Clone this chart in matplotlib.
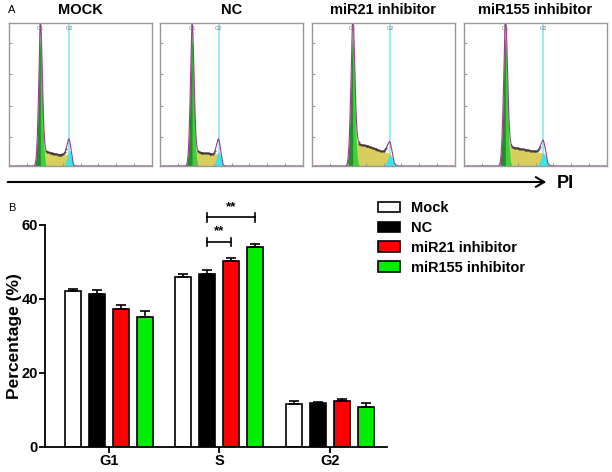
import numpy as np
import matplotlib
matplotlib.use("Agg")
import matplotlib.pyplot as plt
from matplotlib.patches import Patch, FancyArrowPatch

plt.rcParams['font.family'] = ['Liberation Sans', 'DejaVu Sans']

# ---- panel B data ----
groups = ["G1", "S", "G2"]
conditions = ["Mock", "NC", "miR21 inhibitor", "miR155 inhibitor"]
bar_colors = ["white", "black", "#ff0000", "#00ee00"]
mock = [42.2, 46.0, 11.6]
mock_err = [0.4, 0.8, 0.8]
nc = [41.4, 46.8, 11.9]
nc_err = [1.0, 1.0, 0.2]
mir21 = [37.2, 50.4, 12.5]
mir21_err = [1.2, 0.7, 0.6]
mir155 = [35.2, 54.0, 10.8]
mir155_err = [1.5, 0.9, 1.2]

# ---- panel A: cell cycle histograms (positions as fraction of channel range) ----
hist_titles = ["MOCK", "NC", "miR21 inhibitor", "miR155 inhibitor"]
g1_pos = [0.22, 0.225, 0.285, 0.29]
g2_pos = [0.42, 0.41, 0.545, 0.555]
g1_peak = [0.88, 0.88, 0.88, 0.90]
g2_peak = [0.11, 0.10, 0.08, 0.09]
g1_sd = [0.013, 0.013, 0.014, 0.014]
g2_sd = [0.015, 0.015, 0.019, 0.019]
# S-phase level at 6 evenly spaced spots from G1 to G2
s_levels = [
    [0.13, 0.10, 0.09, 0.08, 0.08, 0.08],
    [0.12, 0.10, 0.09, 0.09, 0.08, 0.09],
    [0.17, 0.15, 0.14, 0.12, 0.10, 0.09],
    [0.15, 0.13, 0.12, 0.11, 0.10, 0.09],
]

fig = plt.figure(figsize=(6.12, 4.72), dpi=100)

lefts = [9, 160, 312, 464]
for i in range(4):
    ax = fig.add_axes([lefts[i] / 612, 1 - 166 / 472, 143 / 612, 143 / 472])
    x = np.linspace(0, 1, 800)
    sx = np.linspace(g1_pos[i], g2_pos[i], len(s_levels[i]))
    sx = np.concatenate([[g1_pos[i] - 0.01], sx, [g2_pos[i] + 0.03]])
    sy = np.concatenate([[0], s_levels[i], [0]])
    s_curve = np.interp(x, sx, sy)
    g1 = g1_peak[i] * np.exp(-0.5 * ((x - g1_pos[i]) / g1_sd[i]) ** 2)
    g2 = g2_peak[i] * np.exp(-0.5 * ((x - g2_pos[i]) / g2_sd[i]) ** 2)
    total = s_curve + g1 + g2

    ax.fill_between(x, 0, s_curve, color="#d8cf5e", lw=0)
    ax.fill_between(x, 0, g2, where=g2 > 0.003, color="#3fe3e8", lw=0)
    ax.fill_between(x, 0, g1, where=g1 > 0.003, color="#45cc3a", lw=0)
    ax.fill_between(x, 0, g1, where=(g1 > 0.003) & (x < g1_pos[i]), color="#1f8f28", lw=0)
    ax.plot(x, total, color="#9b3d8c", lw=0.8)
    mask = (x > g1_pos[i] + 0.04) & (x < g2_pos[i] - 0.02)
    ax.plot(x[mask][::5], total[mask][::5], ".", color="#333333", ms=0.8)

    ax.axvline(g1_pos[i], color="#86dc86", lw=1.2, zorder=0)
    ax.axvline(g2_pos[i], color="#8be6ee", lw=1.2, zorder=0)
    ax.text(g1_pos[i], 0.965, "G1", fontsize=4, color="#777777", ha="center", va="center")
    ax.text(g2_pos[i], 0.965, "G2", fontsize=4, color="#777777", ha="center", va="center")

    ax.set_xlim(0, 1)
    ax.set_ylim(0, 1)
    for sp in ax.spines.values():
        sp.set_color("#999999")
        sp.set_linewidth(1.0)
    ax.set_xticks(np.arange(0.125, 1, 0.125))
    ax.set_yticks([0.2, 0.42, 0.64, 0.86])
    ax.tick_params(direction="in", length=2, color="#999999", labelleft=False, labelbottom=False)
    fig.text((lefts[i] + 71.5) / 612, 1 - 10 / 472, hist_titles[i], fontsize=10.5,
             fontweight="bold", ha="center", va="center")

fig.text(8 / 612, 1 - 10 / 472, "A", fontsize=8, ha="left", va="center")
fig.text(8 / 612, 1 - 208 / 472, "B", fontsize=8, ha="left", va="center")

# PI arrow
fig.add_artist(FancyArrowPatch(
    (5 / 612, 1 - 182 / 472), (549 / 612, 1 - 182 / 472), transform=fig.transFigure,
    arrowstyle="->,head_length=6,head_width=3.5", lw=1.5, color="black"))
fig.text(557 / 612, 1 - 183 / 472, "PI", fontsize=13, fontweight="bold", ha="left", va="center")

# ---- panel B ----
ax = fig.add_axes([45 / 612, 1 - 447 / 472, 342 / 612, 222 / 472])
xt = np.arange(len(groups))
step = 0.218
w = 0.145
series = [mock, nc, mir21, mir155]
errs = [mock_err, nc_err, mir21_err, mir155_err]
for k in range(4):
    pos = xt + (k - 1.5) * step
    ax.bar(pos, series[k], width=w, color=bar_colors[k], edgecolor="black", lw=1.2,
           yerr=[np.zeros(3), errs[k]], capsize=3.5,
           error_kw=dict(elinewidth=1.2, capthick=1.2, ecolor="black"), label=conditions[k])

ax.set_xlim(-0.58, 2.52)
ax.set_ylim(0, 60)
ax.set_yticks([0, 20, 40, 60])
ax.set_xticks(xt)
ax.set_xticklabels(groups)
ax.spines["top"].set_visible(False)
ax.spines["right"].set_visible(False)
ax.spines["left"].set_linewidth(1.3)
ax.spines["bottom"].set_linewidth(1.3)
ax.tick_params(axis="both", width=1.3, length=4, labelsize=10.5, pad=1)
for t in ax.get_xticklabels() + ax.get_yticklabels():
    t.set_fontweight("bold")
ax.set_ylabel("Percentage (%)", fontsize=12.5, fontweight="bold")
ax.yaxis.set_label_coords(-0.067, 0.5)

# significance brackets
s_nc = 1 + (1 - 1.5) * step
s_21 = 1 + (2 - 1.5) * step
s_155 = 1 + (3 - 1.5) * step
for xa, xb, yb in [(s_nc, s_21, 55.5), (s_nc, s_155, 62.1)]:
    ax.plot([xa, xb], [yb, yb], color="black", lw=1.2, clip_on=False)
    ax.plot([xa, xa], [yb - 1.3, yb + 1.1], color="black", lw=1.2, clip_on=False)
    ax.plot([xb, xb], [yb - 1.3, yb + 1.1], color="black", lw=1.2, clip_on=False)
    ax.text((xa + xb) / 2, yb + 1.2, "**", ha="center", va="bottom", fontsize=9.5,
            fontweight="bold")

handles = [Patch(facecolor=c, edgecolor="black", lw=1.2) for c in bar_colors]
fig.legend(handles, conditions, loc="upper left", bbox_to_anchor=(378 / 612, 1 - 201 / 472),
           frameon=False, borderpad=0, borderaxespad=0, handlelength=1.5, handleheight=0.7,
           handletextpad=0.75, labelspacing=0.4, prop=dict(size=10.5, weight="bold"))

fig.savefig("out.png", dpi=100)
